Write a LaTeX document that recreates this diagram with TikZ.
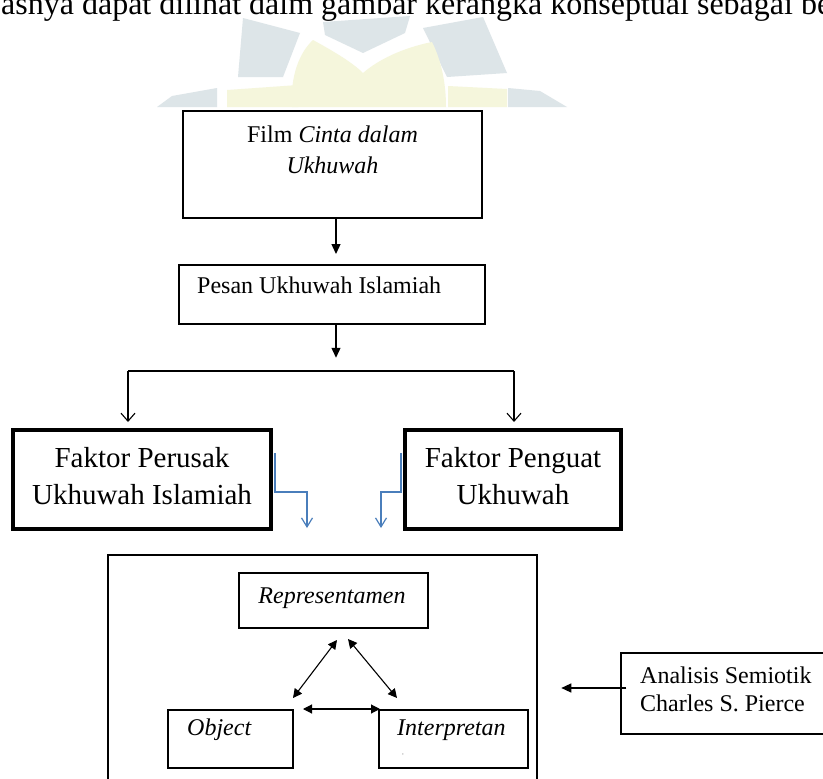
\documentclass[tikz,border=0pt]{standalone}
\usepackage{fontspec}
\setmainfont{Liberation Serif}
\usetikzlibrary{arrows.meta}
\definecolor{wmgray}{HTML}{DDE5E8}
\definecolor{wmyellow}{HTML}{F5F6DC}
\definecolor{lineblue}{HTML}{4A7EBB}
\tikzset{
  boxshape/.style={draw, inner sep=0pt},
  txt/.style={inner sep=0pt, font=\fontsize{24}{29}\selectfont},
  bigtxt/.style={inner sep=0pt, font=\fontsize{29}{34}\selectfont},
  fillarrow/.style={-{Triangle[length=10pt,width=9pt]}, line width=1.3pt},
  openarrow/.style={-{Straight Barb[length=8pt,width=14pt]}, line width=1.1pt},
  dblarrow/.style={{Triangle[length=9pt,width=9pt]}-{Triangle[length=9pt,width=9pt]}, line width=1.1pt},
  bluearrow/.style={-{Straight Barb[length=9pt,width=11pt]}, line width=1.2pt, draw=lineblue},
}
\begin{document}
\begin{tikzpicture}[x=1pt,y=-1pt]
\useasboundingbox (0,0) rectangle (823,779);
\clip (0,0) rectangle (823,779);
\fill[white] (0,0) rectangle (823,779);
% watermark
\fill[wmgray] (243,18) -- (300,33) -- (283,77) -- (238,77) -- cycle;
\fill[wmgray] (323,22) -- (410,16) -- (405,33) -- (363,53) -- (325,35) -- cycle;
\fill[wmgray] (423,28) -- (483,17) -- (507,73) -- (447,77) -- cycle;
\fill[wmgray] (157,107) -- (172,96) -- (217,88) -- (217,107) -- cycle;
\fill[wmgray] (508,88) -- (540,91) -- (567,107) -- (508,107) -- cycle;
\fill[wmyellow] (292,107) .. controls (290,75) and (300,52) .. (313,40) .. controls (335,52) and (353,63) .. (363,73) .. controls (378,60) and (402,48) .. (432,42) .. controls (442,62) and (446,85) .. (446,107) -- cycle;
\fill[wmyellow] (227,90) -- (298,85) -- (298,107) -- (227,107) -- cycle;
\fill[wmyellow] (448,86) -- (507,89) -- (507,107) -- (448,107) -- cycle;
% top text
\node[anchor=base west, inner sep=0pt, font=\fontsize{32}{38}\selectfont] (toptext) at (1,15) {asnya dapat dilihat dalm gambar kerangka konseptual sebagai berikut};
% boxes
\node[boxshape, line width=2pt, minimum width=299pt, minimum height=107pt] (film) at (332.5,164.5) {};
\node[txt, anchor=base] (filmA) at (332.5,142) {Film \textit{Cinta dalam}};
\node[txt, anchor=base] (filmB) at (332.5,173) {\textit{Ukhuwah}};
\node[boxshape, line width=1.5pt, minimum width=306pt, minimum height=59pt] (pesan) at (332,294.5) {};
\node[txt, anchor=base west] (pesanT) at (197,293) {Pesan Ukhuwah Islamiah};
\draw[fillarrow] ([xshift=3.5pt]film.south) -- ++(0,35);
\draw[fillarrow] ([xshift=4pt]pesan.south) -- ++(0,33);
% split
\coordinate (sl) at (128,371);
\coordinate (sr) at (514,371);
\node[boxshape, line width=4pt, minimum width=258pt, minimum height=99pt] (perusak) at (142,479) {};
\node[bigtxt, anchor=base] (perusakA) at (142,467) {Faktor Perusak};
\node[bigtxt, anchor=base] (perusakB) at (142,504) {Ukhuwah Islamiah};
\node[boxshape, line width=4pt, minimum width=216pt, minimum height=99pt] (penguat) at (513,479) {};
\node[bigtxt, anchor=base] (penguatA) at (513,467) {Faktor Penguat};
\node[bigtxt, anchor=base] (penguatB) at (513,504) {Ukhuwah};
\draw[line width=1.1pt] (sl) -- (sr);
\draw[openarrow] (sl) -- (sl |- 0,422);
\draw[openarrow] (sr) -- (sr |- 0,422);
\draw[bluearrow] ([xshift=2pt,yshift=26pt]perusak.east) -- ([xshift=2pt,yshift=-13pt]perusak.east) -- ++(32,0) -- ++(0,36);
\draw[bluearrow] ([xshift=-2pt,yshift=26pt]penguat.west) -- ([xshift=-2pt,yshift=-13pt]penguat.west) -- ++(-20,0) -- ++(0,36);
% big box
\node[boxshape, line width=1.5pt, minimum width=429pt, minimum height=260pt] (frame) at (322.5,685) {};
\node[boxshape, line width=1.4pt, minimum width=189pt, minimum height=55pt] (repr) at (333.5,600.5) {};
\node[txt, anchor=base] (reprT) at (332,603) {\textit{Representamen}};
\node[boxshape, line width=1.4pt, minimum width=125pt, minimum height=58pt] (obj) at (230.5,739) {};
\node[txt, anchor=base west] (objT) at (187,735) {\textit{Object}};
\node[boxshape, line width=1.4pt, minimum width=149pt, minimum height=58pt] (interp) at (453.5,739) {};
\node[txt, anchor=base west] (interpT) at (397,735) {\textit{Interpretan}};
\node[inner sep=0pt, font=\fontsize{7}{7}\selectfont, text=gray] (mark) at (403,755) {,};
\coordinate (a1) at (293,698);
\coordinate (a2) at (337,640);
\coordinate (b1) at (348,639);
\coordinate (b2) at (397,698);
\coordinate (c1) at (303,709);
\coordinate (c2) at (380,709);
\draw[dblarrow] (a1) -- (a2);
\draw[dblarrow] (b1) -- (b2);
\draw[dblarrow] (c1) -- (c2);
% analisis
\node[boxshape, line width=1.4pt, minimum width=229pt, minimum height=81pt] (analisis) at (735.5,693.5) {};
\node[txt, anchor=base west] (analisisA) at (640,683) {Analisis Semiotik};
\node[txt, anchor=base west] (analisisB) at (640,711) {Charles S. Pierce};
\draw[fillarrow] ([xshift=6pt,yshift=5.5pt]analisis.west) -- ++(-65,0);
\end{tikzpicture}
\end{document}
